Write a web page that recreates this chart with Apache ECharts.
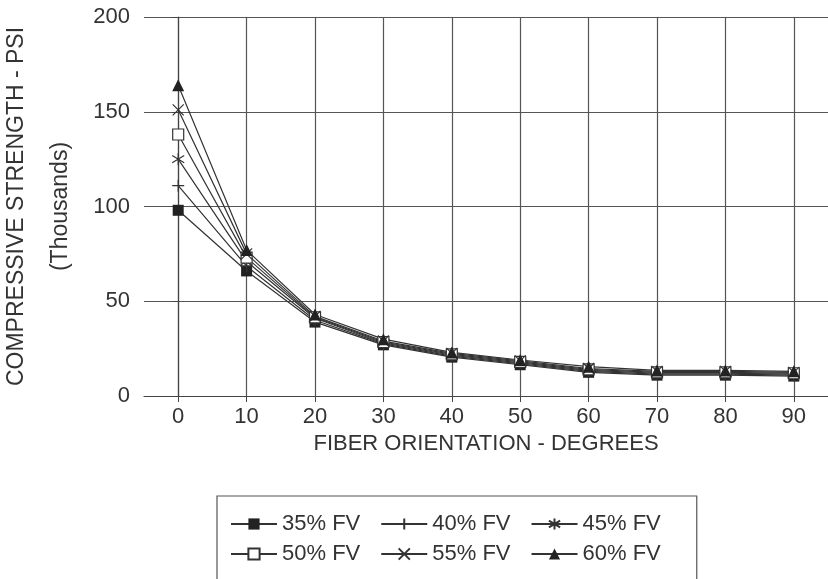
<!DOCTYPE html>
<html>
<head>
<meta charset="utf-8">
<script src="https://cdn.jsdelivr.net/npm/echarts@6/dist/echarts.min.js"></script>
<style>
  html, body { margin: 0; padding: 0; background: #fff; }
  #chart { width: 828px; height: 579px; }
</style>
</head>
<body>
<div id="chart"></div>
<script>
// fiber orientation (degrees)
const angles = [0, 10, 20, 30, 40, 50, 60, 70, 80, 90]
const xTicks = [0, 10, 20, 30, 40, 50, 60, 70, 80, 90]

// compressive strength, thousands of psi
const fv35 = [98, 66, 39, 27, 20.5, 16.5, 12.5, 11, 11, 10.5]
const fv40 = [111, 68.5, 40, 27.5, 21, 17, 13, 11.5, 11.5, 11]
const fv45 = [125, 71, 41, 28, 21.5, 17.5, 13.5, 12, 12, 11.5]
const fv50 = [138, 73, 41.5, 28.5, 22, 18, 14, 12.5, 12.5, 12]
const fv55 = [151, 75, 42, 29, 22.5, 18.5, 14.5, 13, 13, 12.5]
const fv60 = [164, 77, 43, 30, 23, 19, 15.5, 13.5, 13.5, 13]

const names = ['35% FV', '40% FV', '45% FV', '50% FV', '55% FV', '60% FV']

const FONT = "'Liberation Sans', Arial, sans-serif"
const INK = '#333'

// marker shapes
const PLUS = 'path://M0,5L10,5M5,0L5,10'
const STAR = 'path://M5,0L5,10M1,2L9,8M1,8L9,2'
const CROSS = 'path://M1,1L9,9M1,9L9,1'

function pairs(vals) {
  return angles.map((a, i) => [a, vals[i]])
}

function makeSeries(name, vals, symbol, size, filled) {
  return {
    name: name,
    type: 'line',
    data: pairs(vals),
    symbol: symbol,
    symbolSize: size,
    showAllSymbol: true,
    lineStyle: { color: INK, width: 1.2 },
    itemStyle: filled
      ? { color: '#222', borderColor: '#222', borderWidth: 0 }
      : { color: '#fff', borderColor: INK, borderWidth: 1.2 },
    emphasis: { disabled: true },
    animation: false
  }
}

// one legend per row; the first one carries the box for both
function legendRow(data, top, padding, boxed) {
  return {
    data: data,
    left: 217,
    top: top,
    orient: 'horizontal',
    padding: padding,
    itemWidth: 46,
    itemHeight: 14,
    itemGap: 20,
    itemTextGap: 11,
    borderColor: boxed ? '#555' : 'transparent',
    borderWidth: boxed ? 1.2 : 0,
    selectedMode: false,
    textStyle: { fontSize: 22, color: INK, fontFamily: FONT }
  }
}

const chart = echarts.init(document.getElementById('chart'))

chart.setOption({
  backgroundColor: '#fff',
  textStyle: { fontFamily: FONT },
  grid: {
    left: 144,
    right: 0,
    top: 17,
    bottom: 183,
    containLabel: false,
    outerBoundsMode: 'none'
  },
  xAxis: {
    type: 'value',
    min: -5,
    max: 95,
    name: 'FIBER ORIENTATION - DEGREES',
    nameLocation: 'middle',
    nameGap: 34,
    nameTextStyle: { fontSize: 22, color: INK, fontFamily: FONT },
    axisLine: { lineStyle: { color: '#444', width: 1.2 } },
    axisTick: { show: true, length: 6, customValues: xTicks, lineStyle: { color: '#444' } },
    axisLabel: { customValues: xTicks, fontSize: 22, color: INK, margin: 10, fontFamily: FONT },
    splitLine: { show: true, lineStyle: { color: '#555', width: 1.2 } }
  },
  yAxis: {
    type: 'value',
    min: 0,
    max: 200,
    interval: 50,
    name: 'COMPRESSIVE STRENGTH - PSI\n(Thousands)',
    nameLocation: 'middle',
    nameRotate: 90,
    nameGap: 56,
    nameTextStyle: { fontSize: 23, color: INK, lineHeight: 44, fontFamily: FONT },
    axisLine: { show: true, lineStyle: { color: '#444', width: 1.2 } },
    axisTick: { show: true, length: 6, lineStyle: { color: '#444' } },
    axisLabel: { fontSize: 22, color: INK, margin: 14, fontFamily: FONT },
    splitLine: { show: true, lineStyle: { color: '#555', width: 1.2 } }
  },
  legend: [
    legendRow(names.slice(0, 3), 496, [17, 36, 50, 13], true),
    legendRow(names.slice(3), 543, [0, 36, 0, 13], false)
  ],
  series: [
    makeSeries(names[0], fv35, 'rect', 11, true),
    makeSeries(names[1], fv40, PLUS, 12, false),
    makeSeries(names[2], fv45, STAR, 12, false),
    makeSeries(names[3], fv50, 'rect', 11, false),
    makeSeries(names[4], fv55, CROSS, 11, false),
    makeSeries(names[5], fv60, 'triangle', 12, true)
  ]
})
</script>
</body>
</html>
